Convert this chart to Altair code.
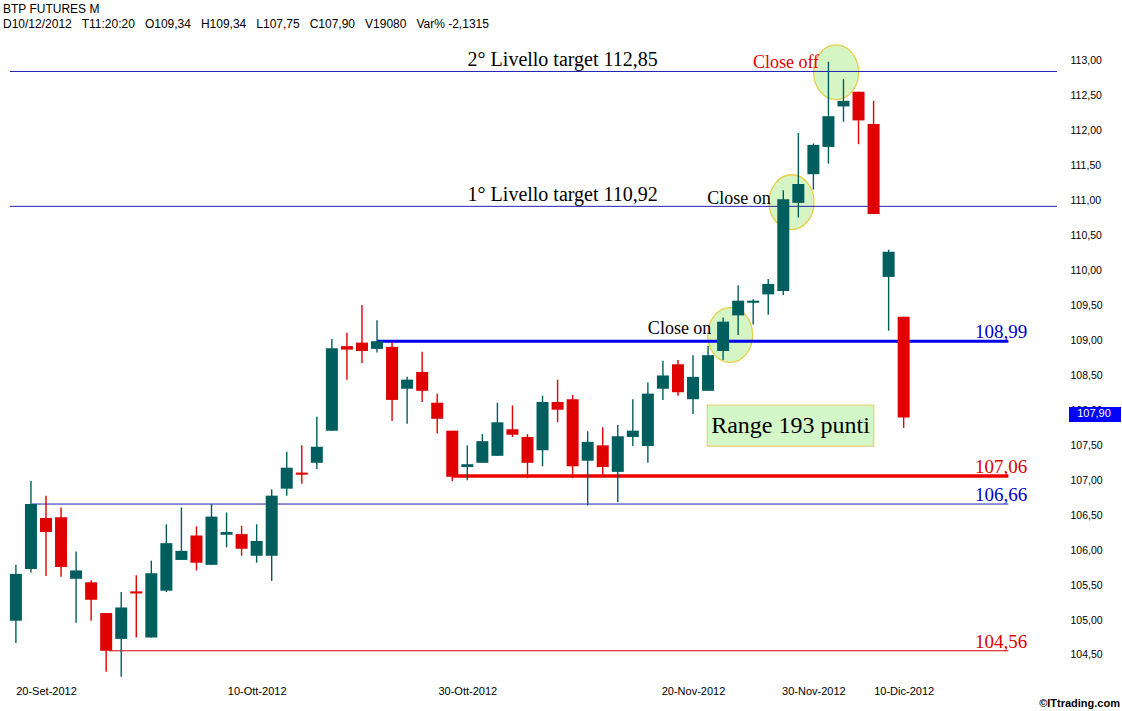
import altair as alt
import pandas as pd

# ---------------- data ----------------
dates = pd.bdate_range("2012-09-18", "2012-12-10")
months_it = {9: "Set", 10: "Ott", 11: "Nov", 12: "Dic"}
date_labels = [f"{d.day}-{months_it[d.month]}-{d.year}" for d in dates]

opens = [104.99, 105.73, 106.46, 106.47, 105.59, 105.54, 105.10, 104.73, 105.41, 104.75,
         105.42, 105.86, 106.21, 105.79, 106.22, 106.23, 105.92, 105.92, 106.88, 107.11,
         107.25, 107.71, 108.92, 108.97, 108.88, 108.91, 108.31, 108.55, 108.11, 107.71,
         107.19, 107.25, 107.35, 107.73, 107.62, 107.43, 108.12, 108.16, 107.28, 107.50,
         107.12, 107.62, 107.49, 108.31, 108.66, 108.16, 108.28, 108.85, 109.36, 109.54,
         109.66, 109.71, 110.97, 111.38, 111.77, 112.35, 112.56, 112.10, 109.91, 109.34]
highs = [105.79, 106.99, 106.78, 106.61, 105.98, 105.57, 105.10, 105.40, 105.64, 105.85,
         106.37, 106.61, 106.34, 106.66, 106.54, 106.35, 106.37, 106.87, 107.41, 107.50,
         107.91, 109.02, 109.11, 109.51, 109.29, 108.98, 108.48, 108.84, 108.24, 107.71,
         107.50, 107.66, 108.11, 108.07, 107.66, 108.21, 108.44, 108.22, 107.70, 107.76,
         107.79, 108.16, 108.40, 108.71, 108.72, 108.79, 108.92, 109.33, 109.79, 109.59,
         109.88, 111.15, 111.97, 111.82, 112.99, 112.74, 112.56, 112.43, 110.30, 109.34]
lows = [104.67, 105.68, 105.63, 105.62, 104.96, 104.99, 104.26, 104.19, 104.75, 104.75,
        105.40, 105.86, 105.71, 105.79, 106.04, 105.92, 105.82, 105.56, 106.78, 106.95,
        107.16, 107.71, 108.44, 108.68, 108.83, 107.85, 107.81, 108.12, 107.67, 106.99,
        107.00, 107.25, 107.35, 107.62, 107.03, 107.20, 107.83, 107.03, 106.64, 107.06,
        106.69, 107.49, 107.25, 108.15, 108.21, 107.95, 108.28, 108.72, 109.08, 109.23,
        109.37, 109.65, 110.76, 111.16, 111.53, 112.13, 111.81, 110.81, 109.14, 107.75]
closes = [105.66, 106.66, 106.26, 105.76, 105.71, 105.29, 104.56, 105.18, 105.38, 105.67,
          106.10, 105.99, 105.82, 106.48, 106.26, 106.02, 106.13, 106.78, 107.18, 107.08,
          107.48, 108.89, 108.87, 108.85, 108.99, 108.15, 108.44, 108.28, 107.88, 107.05,
          107.23, 107.56, 107.83, 107.65, 107.25, 108.12, 108.01, 107.20, 107.55, 107.19,
          107.63, 107.71, 108.24, 108.50, 108.26, 108.48, 108.79, 109.27, 109.57, 109.57,
          109.81, 111.02, 111.24, 111.80, 112.21, 112.43, 112.15, 110.81, 110.27, 107.90]

tick_labels = ["20-Set-2012", "10-Ott-2012", "30-Ott-2012", "20-Nov-2012", "30-Nov-2012", "10-Dic-2012"]
y_ticks = [104.5, 105.0, 105.5, 106.0, 106.5, 107.0, 107.5, 108.0, 108.5,
           109.0, 109.5, 110.0, 110.5, 111.0, 111.5, 112.0, 112.5, 113.0]

level_values = [112.85, 110.92, 108.99, 107.06, 106.66, 104.56]
level_start = [-0.4, -0.4, 24.0, 29.0, 1.05, 6.2]
level_end = [69.19, 69.19, 65.96, 65.96, 65.96, 65.96]
level_colors = ["#2020b4", "#2020b4", "#0000ee", "#ee0000", "#2020b4", "#d40000"]
level_widths = [1, 1, 3, 3.5, 1, 1]

label_texts = ["108,99", "107,06", "106,66", "104,56"]
label_values = [108.99, 107.06, 106.66, 104.56]
label_colors = ["#0000cc", "#dd0000", "#0000cc", "#dd0000"]

target_texts = ["2° Livello target 112,85", "1° Livello target 110,92"]
target_values = [112.85, 110.92]

note_texts = ["Close off", "Close on", "Close on"]
note_x = [48.98, 45.95, 42.0]
note_y = [112.90, 110.953, 109.093]
note_colors = ["#dd0000", "#000000", "#000000"]

circle_x = [47.47, 51.55, 54.51]
circle_y = [109.08, 110.98, 112.84]

range_text = "Range 193 punti"
range_box = [45.95, 57.01, 108.077, 107.49]

NB = "\u00a0"
header1 = "BTP FUTURES M"
header2_parts = ["D10/12/2012", "T11:20:20", "O109,34", "H109,34", "L107,75", "C107,90", "V19080", "Var% -2,1315"]
header2 = (NB * 3).join(header2_parts)
copyright = "©ITtrading.com"

# ---------------- frames ----------------
TEAL = "#005e5e"
RED = "#e00000"
candles = pd.DataFrame({
    "i": list(range(len(date_labels))),
    "date": date_labels,
    "open": opens, "high": highs, "low": lows, "close": closes,
})
candles["dir"] = ["up" if c >= o else "down" for o, c in zip(opens, closes)]

levels = pd.DataFrame({"v": level_values, "x0": level_start, "x1": level_end,
                       "col": level_colors, "w": level_widths})
lab_df = pd.DataFrame({"t": label_texts, "v": label_values, "col": label_colors,
                       "x": [67.22] * len(label_texts)})
tgt_df = pd.DataFrame({"t": target_texts, "v": target_values, "x": [30.02] * 2})
note_df = pd.DataFrame({"t": note_texts, "x": note_x, "v": note_y, "col": note_colors})
circ_df = pd.DataFrame({"x": circle_x, "v": circle_y})
box_df = pd.DataFrame({"x0": [range_box[0]], "x1": [range_box[1]],
                       "v0": [range_box[2]], "v1": [range_box[3]],
                       "xc": [(range_box[0] + range_box[1]) / 2],
                       "vc": [(range_box[2] + range_box[3]) / 2], "t": [range_text]})
last_df = pd.DataFrame({"v": [closes[-1]], "top": [closes[-1] + 0.15],
                        "bot": [closes[-1] - 0.065],
                        "t": [f"{closes[-1]:.2f}".replace(".", ",")]})

# ---------------- scales / axes ----------------
tick_idx = [date_labels.index(t) for t in tick_labels]
label_expr = " : ".join(f"datum.value == {i} ? '{t}'" for i, t in zip(tick_idx, tick_labels)) + " : ''"

x_scale = alt.Scale(domain=[-0.724, 69.19], nice=False, zero=False)
y_scale = alt.Scale(domain=[104.142, 113.3005], nice=False, zero=False)
x_axis = alt.Axis(values=tick_idx, labelExpr=label_expr, title=None, grid=False, domain=False,
                  ticks=False, labelFont="Liberation Sans", labelFontSize=11, labelColor="#000000",
                  labelPadding=5, labelFlush=False)
y_axis = alt.Axis(orient="right", values=y_ticks,
                  labelExpr="replace(format(datum.value, '.2f'), '.', ',')",
                  title=None, grid=False, domain=False, ticks=False,
                  labelFont="Liberation Sans", labelFontSize=10.5, labelColor="#000000",
                  labelPadding=8)


def X(f):
    return alt.X(f"{f}:Q", scale=x_scale, axis=x_axis)


def Y(f):
    return alt.Y(f"{f}:Q", scale=y_scale, axis=y_axis)


color_enc = alt.Color("dir:N", scale=alt.Scale(domain=["up", "down"], range=[TEAL, RED]), legend=None)

# ---------------- layers ----------------
ellipse = "M -0.82 0 A 0.82 1 0 1 0 0.82 0 A 0.82 1 0 1 0 -0.82 0 Z"
circles = alt.Chart(circ_df).mark_point(shape=ellipse, filled=True, size=3000,
                                        fill="#d6f5c4", stroke="#e6cf4a", strokeWidth=1.3,
                                        opacity=1).encode(x=X("x"), y=Y("v"))

box = alt.Chart(box_df).mark_rect(fill="#d4f7c8", stroke="#e6d070", strokeWidth=1.2).encode(
    x=X("x0"), x2="x1", y=Y("v0"), y2="v1")
box_text = alt.Chart(box_df).mark_text(font="Liberation Serif", fontSize=24, color="#000000",
                                       align="center", baseline="middle").encode(
    x=X("xc"), y=Y("vc"), text="t:N")

lines = alt.Chart(levels).mark_rule().encode(
    x=X("x0"), x2="x1", y=Y("v"),
    color=alt.Color("col:N", scale=None),
    strokeWidth=alt.StrokeWidth("w:Q", scale=None))

wicks = alt.Chart(candles).mark_rule(strokeWidth=1.4).encode(
    x=X("i"), y=Y("low"), y2="high", color=color_enc)
bodies = alt.Chart(candles).mark_bar(size=12).encode(
    x=X("i"), y=Y("open"), y2="close", color=color_enc)

lab_text = alt.Chart(lab_df).mark_text(font="Liberation Serif", fontSize=19, align="right",
                                       baseline="alphabetic", dy=-3).encode(
    x=X("x"), y=Y("v"), text="t:N", color=alt.Color("col:N", scale=None))
tgt_text = alt.Chart(tgt_df).mark_text(font="Liberation Serif", fontSize=20, align="left",
                                       baseline="alphabetic", dy=-5, color="#000000").encode(
    x=X("x"), y=Y("v"), text="t:N")
notes = alt.Chart(note_df).mark_text(font="Liberation Serif", fontSize=18, align="left",
                                     baseline="alphabetic").encode(
    x=X("x"), y=Y("v"), text="t:N", color=alt.Color("col:N", scale=None))

last_box = alt.Chart(last_df).mark_rect(fill="#0000ff").encode(
    x=alt.value(1069), x2=alt.value(1121), y=Y("top"), y2="bot")
last_text = alt.Chart(last_df).mark_text(font="Liberation Sans", fontSize=11, color="#ffffff",
                                         align="center", baseline="middle", dy=-3).encode(
    x=alt.value(1094), y=Y("v"), text="t:N")

hdr = pd.DataFrame({"t": [header1, header2], "yy": [-27, -12]})
header = alt.Chart(hdr).mark_text(font="Liberation Sans", fontSize=12, align="left",
                                  baseline="alphabetic", color="#000000").encode(
    x=alt.value(3), y=alt.Y("yy:Q", scale=None, axis=None), text="t:N")

copy_df = pd.DataFrame({"t": [copyright]})
copy_text = alt.Chart(copy_df).mark_text(font="Liberation Sans", fontSize=11, fontWeight="bold",
                                         align="right", baseline="alphabetic",
                                         color="#000000").encode(
    x=alt.value(1120), y=alt.value(667), text="t:N")

chart = alt.layer(
    circles, box, lines, wicks, bodies, box_text, lab_text, tgt_text, notes,
    last_box, last_text, header, copy_text
).properties(
    width=1062, height=640,
    autosize=alt.AutoSizeParams(type="none"),
    padding={"left": 0, "top": 40, "right": 60, "bottom": 31},
    background="#ffffff",
).configure_view(strokeWidth=0)

chart.save("out.html", embed_options={"renderer": "svg", "actions": False})
